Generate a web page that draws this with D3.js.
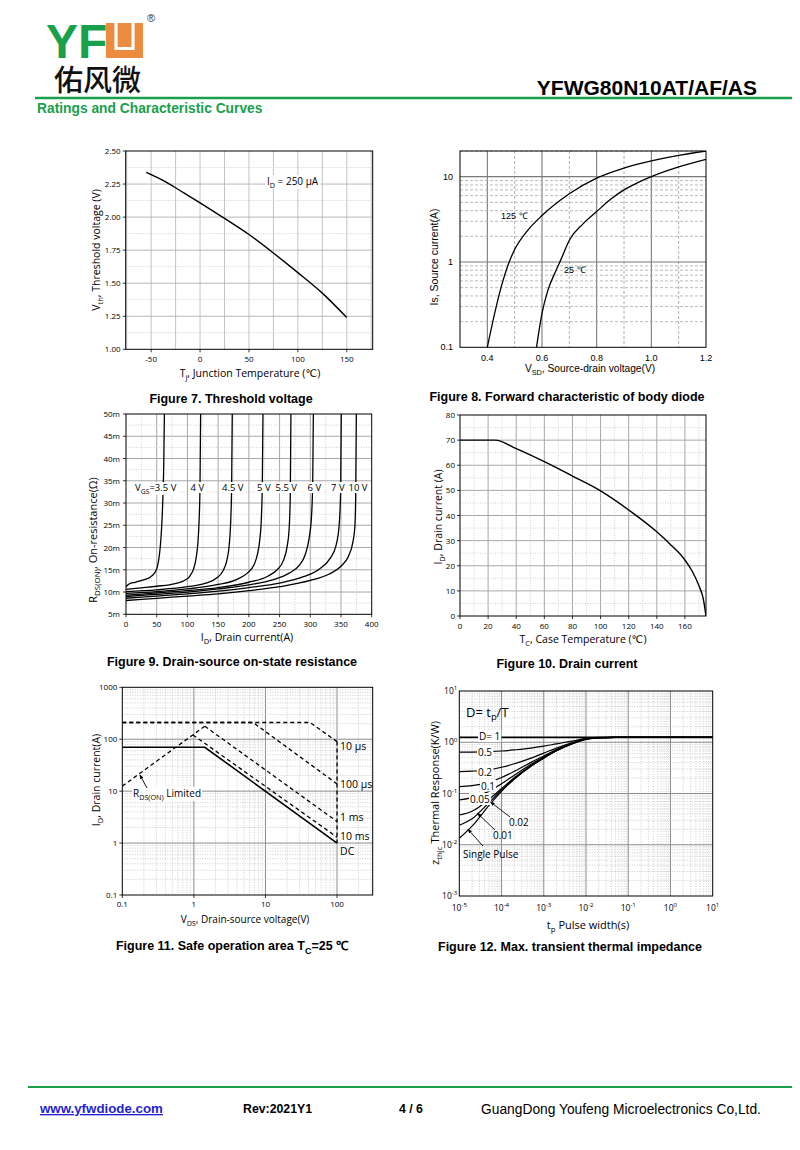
<!DOCTYPE html>
<html><head><meta charset="utf-8">
<script src="https://cdn.jsdelivr.net/npm/d3@7"></script>
<style>body{margin:0;background:#fff}svg{display:block}</style>
</head><body>
<script>
// ===== DATA =====
// Figure 7: threshold voltage vs junction temperature
const fig7Temp = [-55, -40, -25, -10, 0, 25, 50, 75, 100, 125, 150];
const fig7Vth  = [2.338, 2.285, 2.222, 2.153, 2.108, 1.99, 1.868, 1.728, 1.58, 1.425, 1.24];
const fig7XTicks = [-50, 0, 50, 100, 150];
const fig7YTicks = [1.00, 1.25, 1.50, 1.75, 2.00, 2.25, 2.50];

// Figure 8: body diode forward characteristic
const fig8V125 = [0.40, 0.42, 0.45, 0.48, 0.50, 0.55, 0.60, 0.70, 0.80, 0.90, 1.00, 1.10, 1.20];
const fig8I125 = [0.10, 0.20, 0.50, 1.00, 1.40, 2.40, 3.50, 6.30, 9.60, 12.6, 15.3, 17.8, 20.0];
const fig8V25  = [0.58, 0.60, 0.62, 0.65, 0.67, 0.70, 0.75, 0.80, 0.85, 0.90, 0.95, 1.00, 1.10, 1.20];
const fig8I25  = [0.10, 0.25, 0.45, 0.78, 1.08, 1.80, 2.80, 3.90, 5.40, 7.00, 8.50, 10.0, 13.0, 16.0];
const fig8XTicks = [0.4, 0.6, 0.8, 1.0, 1.2];
const fig8YTicks = [0.1, 1, 10];

// Figure 9: on-resistance vs drain current (mΩ)
const fig9Labels = ["3.5 V", "4 V", "4.5 V", "5 V", "5.5 V", "6 V", "7 V", "10 V"];
const fig9Current = [
  [0, 5, 15, 30, 40, 46, 50, 53, 56, 58, 60, 61.5, 62.5],
  [0, 20, 50, 80, 95, 104, 110, 114, 117, 119, 120.5, 121.5],
  [0, 50, 100, 130, 148, 158, 164, 168, 170.5, 172, 173],
  [0, 50, 100, 150, 180, 198, 208, 214, 218, 220.5, 222, 223],
  [0, 50, 100, 150, 200, 230, 246, 256, 262, 265.5, 267.5, 268.5],
  [0, 50, 100, 150, 200, 240, 265, 282, 292, 298, 302, 304, 305],
  [0, 50, 100, 150, 200, 250, 290, 315, 332, 342, 347, 349.5, 350.5],
  [0, 50, 100, 150, 200, 250, 300, 330, 350, 362, 369, 372.5, 374, 375]
];
const fig9Rds = [
  [11.2, 11.8, 12.2, 12.8, 13.4, 14.2, 15.2, 17, 20.5, 24.5, 31, 39, 50],
  [10.6, 10.9, 11.3, 11.9, 12.6, 13.6, 15.2, 17.5, 21, 26, 34, 50],
  [10.1, 10.5, 11.2, 12, 13.2, 14.8, 17, 20.5, 26, 34, 50],
  [9.7, 10.1, 10.7, 11.7, 12.8, 14.3, 16, 18.5, 22, 27, 35, 50],
  [9.3, 9.8, 10.3, 11, 12.2, 13.5, 15, 17, 20, 24, 32, 50],
  [9.0, 9.5, 10, 10.7, 11.6, 12.8, 14.2, 16, 18.5, 22, 27, 35, 50],
  [8.6, 9.1, 9.6, 10.2, 11, 12, 13.5, 15.2, 17.5, 20.5, 25, 33, 50],
  [8.1, 8.6, 9.1, 9.6, 10.3, 11.2, 12.6, 14, 15.8, 18, 21, 24.5, 32, 50]
];
const fig9XTicks = [0, 50, 100, 150, 200, 250, 300, 350, 400];
const fig9YTicks = [5, 10, 15, 20, 25, 30, 35, 40, 45, 50];

// Figure 10: drain current vs case temperature
const fig10Temp = [0, 25, 40, 60, 80, 100, 120, 140, 150, 160, 165, 170, 173, 175];
const fig10Id   = [70, 70, 66.6, 61.4, 55.7, 49.8, 42.2, 33.5, 28.3, 22.3, 18, 12, 7, 0];
const fig10XTicks = [0, 20, 40, 60, 80, 100, 120, 140, 160];
const fig10YTicks = [0, 10, 20, 30, 40, 50, 60, 70, 80];

// Figure 11: safe operating area
const soaRdsV = [0.1, 1.42],        soaRdsI = [12.5, 178];
const soa10usV = [0.1, 42, 100],    soa10usI = [210, 210, 90];
const soa100usV = [0.1, 6.7, 100],  soa100usI = [210, 210, 13.8];
const soa1msV = [1.42, 100],        soa1msI = [178, 2.6];
const soa10msV = [0.97, 100],       soa10msI = [121, 1.3];
const soaDcV = [0.1, 1.42, 100],    soaDcI = [70, 70, 1];
const soaVmaxV = [100, 100],        soaVmaxI = [90, 1];
const soaLabels = ["10 µs", "100 µs", "1 ms", "10 ms", "DC"];
const fig11XTicks = [0.1, 1, 10, 100];
const fig11YTicks = [0.1, 1, 10, 100, 1000];

// Figure 12: transient thermal impedance
const tpSec = [1e-5, 2e-5, 5e-5, 1e-4, 2e-4, 5e-4, 1e-3, 2e-3, 5e-3, 1e-2, 2e-2, 5e-2, 1e-1, 1, 10];
const zD1    = [1.25, 1.25, 1.25, 1.25, 1.25, 1.25, 1.25, 1.25, 1.25, 1.25, 1.25, 1.25, 1.25, 1.25, 1.25];
const zD05   = [0.64, 0.643, 0.655, 0.675, 0.71, 0.77, 0.84, 0.93, 1.06, 1.19, 1.24, 1.25, 1.25, 1.25, 1.25];
const zD02   = [0.267, 0.273, 0.29, 0.325, 0.38, 0.49, 0.615, 0.77, 0.995, 1.165, 1.23, 1.25, 1.25, 1.25, 1.25];
const zD01   = [0.136, 0.143, 0.165, 0.205, 0.27, 0.405, 0.54, 0.72, 0.975, 1.155, 1.23, 1.25, 1.25, 1.25, 1.25];
const zD005  = [0.075, 0.083, 0.11, 0.155, 0.228, 0.372, 0.515, 0.70, 0.965, 1.15, 1.225, 1.25, 1.25, 1.25, 1.25];
const zD002  = [0.038, 0.045, 0.076, 0.125, 0.203, 0.352, 0.50, 0.69, 0.96, 1.15, 1.225, 1.25, 1.25, 1.25, 1.25];
const zD001  = [0.024, 0.032, 0.066, 0.117, 0.196, 0.345, 0.495, 0.685, 0.955, 1.145, 1.22, 1.25, 1.25, 1.25, 1.25];
const zSingle= [0.0133, 0.023, 0.058, 0.11, 0.19, 0.34, 0.49, 0.68, 0.95, 1.14, 1.22, 1.25, 1.25, 1.25, 1.25];
const fig12XExp = [-5, -4, -3, -2, -1, 0, 1];
const fig12YExp = [-3, -2, -1, 0, 1];

// ===== HELPERS =====
const SANS = "'Liberation Sans', Arial, sans-serif";
const OPEN = "'Open Sans', 'DejaVu Sans', sans-serif";
const GREEN = "#19a04b", ORANGE = "#ec8b3d";
const svg = d3.select("body").append("svg").attr("width", 800).attr("height", 1150);
svg.append("rect").attr("width", 800).attr("height", 1150).attr("fill", "#fff");
const defs = svg.append("defs");
defs.append("marker").attr("id", "arr").attr("viewBox", "0 0 10 10").attr("refX", 9).attr("refY", 5)
  .attr("markerWidth", 5).attr("markerHeight", 5).attr("orient", "auto-start-reverse")
  .append("path").attr("d", "M0,1 L10,5 L0,9 z").attr("fill", "#000");

function rich(t, str, fs) {
  const parts = str.split(/(_\{[^}]*\}|\^\{[^}]*\})/).filter(s => s.length);
  let off = 0;
  parts.forEach(p => {
    const ts = t.append("tspan");
    let target = 0, s = p, size = null;
    if (p.startsWith("_{")) { target = 0.3 * fs; s = p.slice(2, -1); size = fs * 0.72; }
    else if (p.startsWith("^{")) { target = -0.42 * fs; s = p.slice(2, -1); size = fs * 0.72; }
    ts.text(s);
    if (size) ts.attr("font-size", size);
    if (target !== off) { ts.attr("dy", target - off); off = target; }
  });
}
function txt(g, x, y, str, o = {}) {
  const fs = o.fs || 10;
  const t = g.append("text").attr("x", x).attr("y", y)
    .attr("font-family", o.ff || SANS).attr("font-size", fs)
    .attr("fill", o.fill || "#000").attr("text-anchor", o.anchor || "start");
  if (o.fw) t.attr("font-weight", o.fw);
  if (o.rotate) t.attr("transform", `rotate(${o.rotate},${x},${y})`);
  rich(t, str, fs);
  return t;
}
function boxed(g, x, y, str, o = {}, pad = 1.5) {
  const t = txt(g, x, y, str, o);
  const b = t.node().getBBox();
  g.insert("rect", () => t.node()).attr("x", b.x - pad).attr("y", b.y + 1).attr("width", b.width + 2 * pad)
    .attr("height", b.height - 2).attr("fill", "#fff");
  return t;
}
function vlines(g, xs, vals, T, B, st) {
  g.append("g").selectAll("line").data(vals).join("line")
    .attr("x1", d => xs(d)).attr("x2", d => xs(d)).attr("y1", T).attr("y2", B)
    .attr("stroke", st.c).attr("stroke-width", st.w).attr("stroke-dasharray", st.d || null);
}
function hlines(g, ys, vals, L, R, st) {
  g.append("g").selectAll("line").data(vals).join("line")
    .attr("y1", d => ys(d)).attr("y2", d => ys(d)).attr("x1", L).attr("x2", R)
    .attr("stroke", st.c).attr("stroke-width", st.w).attr("stroke-dasharray", st.d || null);
}
function frame(g, L, R, T, B, w = 1) {
  g.append("rect").attr("x", L).attr("y", T).attr("width", R - L).attr("height", B - T)
    .attr("fill", "none").attr("stroke", "#000").attr("stroke-width", w);
}
let clipN = 0;
function clip(g, L, R, T, B) {
  const id = "c" + (clipN++);
  defs.append("clipPath").attr("id", id).append("rect").attr("x", L).attr("y", T).attr("width", R - L).attr("height", B - T);
  return g.append("g").attr("clip-path", `url(#${id})`);
}
function ticksOut(g, xs, ys, xv, yv, L, B, len, w) {
  g.append("g").selectAll("line").data(xv).join("line").attr("x1", d => xs(d)).attr("x2", d => xs(d))
    .attr("y1", B).attr("y2", B + len).attr("stroke", "#000").attr("stroke-width", w);
  g.append("g").selectAll("line").data(yv).join("line").attr("y1", d => ys(d)).attr("y2", d => ys(d))
    .attr("x1", L).attr("x2", L - len).attr("stroke", "#000").attr("stroke-width", w);
}
function logMinors(lo, hi) {
  const out = [];
  for (let e = lo; e < hi; e++) for (let m = 2; m <= 9; m++) out.push(m * Math.pow(10, e));
  return out;
}
function caption(x, y, s) { txt(svg, x, y, s, { fs: 12.5, fw: "bold", anchor: "middle" }); }
const zip = (a, b) => a.map((v, i) => [v, b[i]]);

// ===== HEADER =====
txt(svg, 46, 58, "YF", { fs: 48, fw: "bold", fill: GREEN, ff: SANS });
svg.append("rect").attr("x", 106).attr("y", 23).attr("width", 37).attr("height", 35).attr("fill", ORANGE);
svg.append("path").attr("d", "M116,23 V48.5 H133 V23").attr("fill", "none").attr("stroke", "#fff").attr("stroke-width", 3.2);
txt(svg, 147, 22, "®", { fs: 11, fill: "#333" });
txt(svg, 54, 91, "佑风微", { fs: 29, fw: 500, ff: "'Noto Sans CJK SC', sans-serif", fill: "#111" });
txt(svg, 757, 95, "YFWG80N10AT/AF/AS", { fs: 21, fw: "bold", anchor: "end" });
svg.append("line").attr("x1", 35).attr("x2", 792).attr("y1", 98).attr("y2", 98).attr("stroke", GREEN).attr("stroke-width", 2.5);
txt(svg, 37, 113, "Ratings and Characteristic Curves", { fs: 13.8, fw: "bold", fill: GREEN });

// ===== FIGURE 7 =====
{
  const L = 125.7, R = 372.7, T = 151, B = 349.3;
  const g = svg.append("g");
  const x = d3.scaleLinear().domain([-76, 176.5]).range([L, R]);
  const y = d3.scaleLinear().domain([1.0, 2.5]).range([B, T]);
  vlines(g, x, d3.range(-75, 176, 25), T, B, { c: "#bdbdbd", w: 0.9 });
  hlines(g, y, d3.range(1.125, 2.5, 0.25), L, R, { c: "#c4c4c4", w: 0.8, d: "1,1.5" });
  hlines(g, y, [1.25, 1.5, 1.75, 2.0, 2.25], L, R, { c: "#b0b0b0", w: 0.9 });
  const c = clip(g, L, R, T, B);
  c.append("path").datum(zip(fig7Temp, fig7Vth)).attr("fill", "none").attr("stroke", "#000").attr("stroke-width", 1.4)
    .attr("d", d3.line().x(d => x(d[0])).y(d => y(d[1])).curve(d3.curveMonotoneX));
  frame(g, L, R, T, B, 1);
  ticksOut(g, x, y, fig7XTicks, fig7YTicks, L, B, 3, 0.8);
  fig7XTicks.forEach(v => txt(g, x(v), B + 13, String(v), { fs: 8, ff: OPEN, anchor: "middle" }));
  fig7YTicks.forEach(v => txt(g, L - 5, y(v) + 3, v.toFixed(2), { fs: 8, ff: OPEN, anchor: "end" }));
  boxed(g, 267, 185, "I_{D} = 250 µA", { fs: 10, ff: OPEN });
  txt(g, 99.5, 250, "V_{th}, Threshold voltage (V)", { fs: 10.5, ff: OPEN, anchor: "middle", rotate: -90 });
  txt(g, 250, 377, "T_{j}, Junction Temperature (℃)", { fs: 10.5, ff: OPEN, anchor: "middle" });
  caption(231, 403, "Figure 7. Threshold voltage");
}

// ===== FIGURE 8 =====
{
  const L = 460, R = 706, T = 151, B = 347.3;
  const g = svg.append("g");
  const x = d3.scaleLinear().domain([0.3, 1.2]).range([L, R]);
  const y = d3.scaleLog().domain([0.1, 20]).range([B, T]);
  vlines(g, x, [0.5, 0.7, 0.9, 1.1], T, B, { c: "#9a9a9a", w: 0.8, d: "3,2" });
  vlines(g, x, [0.4, 0.6, 0.8, 1.0], T, B, { c: "#7a7a7a", w: 1.1 });
  hlines(g, y, logMinors(-1, 2).filter(v => v <= 20), L, R, { c: "#a8a8a8", w: 0.8, d: "3,2" });
  hlines(g, y, [1, 10], L, R, { c: "#7a7a7a", w: 1.2 });
  const c = clip(g, L, R, T, B);
  const ln = d3.line().x(d => x(d[0])).y(d => y(d[1])).curve(d3.curveMonotoneX);
  c.append("path").datum(zip(fig8V125, fig8I125)).attr("fill", "none").attr("stroke", "#000").attr("stroke-width", 1.3).attr("d", ln);
  c.append("path").datum(zip(fig8V25, fig8I25)).attr("fill", "none").attr("stroke", "#000").attr("stroke-width", 1.3).attr("d", ln);
  frame(g, L, R, T, B, 1);
  fig8XTicks.forEach(v => txt(g, x(v), B + 13.5, v.toFixed(1), { fs: 9 , anchor: "middle" }));
  fig8YTicks.forEach(v => txt(g, L - 7, y(v) + 3, String(v), { fs: 9, anchor: "end" }));
  txt(g, 501, 218.5, "125 ℃", { fs: 9 });
  txt(g, 564, 272.5, "25 ℃", { fs: 9 });
  txt(g, 437.5, 257, "Is, Source current(A)", { fs: 10.5, anchor: "middle", rotate: -90 });
  txt(g, 590, 371.5, "V_{SD}, Source-drain voltage(V)", { fs: 10.2, anchor: "middle" });
  caption(567, 401, "Figure 8. Forward characteristic of body diode");
}

// ===== FIGURE 9 =====
{
  const L = 126, R = 371.7, T = 414, B = 614.3;
  const g = svg.append("g");
  const x = d3.scaleLinear().domain([0, 400]).range([L, R]);
  const y = d3.scaleLinear().domain([5, 50]).range([B, T]);
  vlines(g, x, d3.range(25, 400, 50), T, B, { c: "#c4c4c4", w: 0.8, d: "1,1.5" });
  vlines(g, x, d3.range(50, 400, 50), T, B, { c: "#a8a8a8", w: 1 });
  hlines(g, y, d3.range(7.5, 50, 5), L, R, { c: "#c4c4c4", w: 0.8, d: "1,1.5" });
  hlines(g, y, d3.range(10, 50, 5), L, R, { c: "#a8a8a8", w: 1 });
  const c = clip(g, L, R, T, B);
  const ln = d3.line().x(d => x(d[0])).y(d => y(d[1])).curve(d3.curveMonotoneX);
  fig9Current.forEach((cur, i) => {
    c.append("path").datum(zip(cur, fig9Rds[i])).attr("fill", "none").attr("stroke", "#000").attr("stroke-width", 1.3).attr("d", ln);
  });
  frame(g, L, R, T, B, 1);
  ticksOut(g, x, y, fig9XTicks, fig9YTicks, L, B, 3, 0.8);
  fig9XTicks.forEach(v => txt(g, x(v), B + 12.5, String(v), { fs: 8, ff: OPEN, anchor: "middle" }));
  fig9YTicks.forEach(v => txt(g, L - 6, y(v) + 3, v + "m", { fs: 8, ff: OPEN, anchor: "end" }));
  const lblX = [135, 190.5, 222, 257, 275.5, 307.5, 331, 348.5];
  fig9Labels.forEach((s, i) => {
    boxed(g, lblX[i], 491, i === 0 ? "V_{GS}=" + s : s, { fs: 9.5, ff: OPEN }, 2);
  });
  txt(g, 97, 540, "R_{DS(ON)}, On-resistance(Ω)", { fs: 11, ff: OPEN, anchor: "middle", rotate: -90 });
  txt(g, 247, 641, "I_{D}, Drain current(A)", { fs: 10.5, ff: OPEN, anchor: "middle" });
  caption(232, 666, "Figure 9. Drain-source on-state resistance");
}

// ===== FIGURE 10 =====
{
  const L = 460, R = 706, T = 415, B = 616;
  const g = svg.append("g");
  const x = d3.scaleLinear().domain([0, 175]).range([L, R]);
  const y = d3.scaleLinear().domain([0, 80]).range([B, T]);
  vlines(g, x, d3.range(10, 175, 20), T, B, { c: "#c4c4c4", w: 0.8, d: "1,1.5" });
  vlines(g, x, d3.range(20, 175, 20), T, B, { c: "#a8a8a8", w: 1 });
  hlines(g, y, d3.range(5, 80, 10), L, R, { c: "#c4c4c4", w: 0.8, d: "1,1.5" });
  hlines(g, y, d3.range(10, 80, 10), L, R, { c: "#a8a8a8", w: 1 });
  const c = clip(g, L, R, T, B);
  c.append("path").datum(zip(fig10Temp, fig10Id)).attr("fill", "none").attr("stroke", "#000").attr("stroke-width", 1.4)
    .attr("d", d3.line().x(d => x(d[0])).y(d => y(d[1])).curve(d3.curveMonotoneX));
  frame(g, L, R, T, B, 1);
  ticksOut(g, x, y, fig10XTicks, fig10YTicks, L, B, 3, 0.8);
  fig10XTicks.forEach(v => txt(g, x(v), B + 13, String(v), { fs: 8, ff: OPEN, anchor: "middle" }));
  fig10YTicks.forEach(v => txt(g, L - 5, y(v) + 3, String(v), { fs: 8, ff: OPEN, anchor: "end" }));
  txt(g, 441.5, 517, "I_{D}, Drain current (A)", { fs: 10.5, ff: OPEN, anchor: "middle", rotate: -90 });
  txt(g, 583, 643, "T_{C}, Case Temperature (℃)", { fs: 10.5, ff: OPEN, anchor: "middle" });
  caption(567, 668, "Figure 10. Drain current");
}

// ===== FIGURE 11 =====
{
  const L = 122.3, R = 372.7, T = 687.3, B = 895;
  const g = svg.append("g");
  const x = d3.scaleLog().domain([0.1, 315]).range([L, R]);
  const y = d3.scaleLog().domain([0.1, 1000]).range([B, T]);
  vlines(g, x, logMinors(-1, 3).filter(v => v < 315), T, B, { c: "#c0c0c0", w: 0.8, d: "1,1.5" });
  vlines(g, x, [1, 10, 100], T, B, { c: "#8c8c8c", w: 1 });
  hlines(g, y, logMinors(-1, 3), L, R, { c: "#c0c0c0", w: 0.8, d: "1,1.5" });
  hlines(g, y, [1, 10, 100], L, R, { c: "#8c8c8c", w: 1 });
  const c = clip(g, L, R, T, B);
  const ln = d3.line().x(d => x(d[0])).y(d => y(d[1]));
  const dashed = [[soaRdsV, soaRdsI], [soa10usV, soa10usI], [soa100usV, soa100usI], [soa1msV, soa1msI], [soa10msV, soa10msI], [soaVmaxV, soaVmaxI]];
  dashed.forEach(([v, i]) => c.append("path").datum(zip(v, i)).attr("fill", "none").attr("stroke", "#000")
    .attr("stroke-width", 1.3).attr("stroke-dasharray", "4,3").attr("d", ln));
  c.append("path").datum(zip(soaDcV, soaDcI)).attr("fill", "none").attr("stroke", "#000").attr("stroke-width", 1.6).attr("d", ln);
  frame(g, L, R, T, B, 1);
  ticksOut(g, x, y, fig11XTicks, fig11YTicks, L, B, 3, 0.8);
  fig11XTicks.forEach(v => txt(g, x(v), B + 12, String(v), { fs: 8, ff: OPEN, anchor: "middle" }));
  fig11YTicks.forEach(v => txt(g, L - 5, y(v) + 3, String(v), { fs: 8, ff: OPEN, anchor: "end" }));
  const lblI = [72, 13.5, 3.2, 1.36, 0.70];
  soaLabels.forEach((s, i) => txt(g, x(100) + 3, y(lblI[i]) + 3.8, s, { fs: 10.5, ff: OPEN }));
  boxed(g, 133, 797, "R_{DS(ON)} Limited", { fs: 10, ff: OPEN }, 1);
  g.append("line").attr("x1", 147).attr("y1", 788).attr("x2", x(0.176)).attr("y2", y(22) + 1.5)
    .attr("stroke", "#000").attr("stroke-width", 0.9).attr("marker-end", "url(#arr)");
  txt(g, 99.5, 780, "I_{D}, Drain current(A)", { fs: 10.5, ff: OPEN, anchor: "middle", rotate: -90 });
  txt(g, 245, 923, "V_{DS}, Drain-source voltage(V)", { fs: 10, ff: OPEN, anchor: "middle" });
  caption(232, 950, "Figure 11. Safe operation area T_{C}=25  ℃");
}

// ===== FIGURE 12 =====
{
  const L = 459.3, R = 712.7, T = 691, B = 896;
  const g = svg.append("g");
  const x = d3.scaleLog().domain([1e-5, 10]).range([L, R]);
  const y = d3.scaleLog().domain([1e-3, 10]).range([B, T]);
  vlines(g, x, logMinors(-5, 1), T, B, { c: "#c0c0c0", w: 0.8, d: "1,1.5" });
  vlines(g, x, fig12XExp.slice(1, -1).map(e => Math.pow(10, e)), T, B, { c: "#8c8c8c", w: 1 });
  hlines(g, y, logMinors(-3, 1), L, R, { c: "#c0c0c0", w: 0.8, d: "1,1.5" });
  hlines(g, y, fig12YExp.slice(1, -1).map(e => Math.pow(10, e)), L, R, { c: "#8c8c8c", w: 1 });
  const c = clip(g, L, R, T, B);
  const ln = d3.line().x(d => x(d[0])).y(d => y(d[1])).curve(d3.curveMonotoneX);
  [zSingle, zD001, zD002, zD005, zD01, zD02, zD05].forEach(z =>
    c.append("path").datum(zip(tpSec, z)).attr("fill", "none").attr("stroke", "#000").attr("stroke-width", 1.2).attr("d", ln));
  c.append("path").datum(zip(tpSec, zD1)).attr("fill", "none").attr("stroke", "#000").attr("stroke-width", 1.8).attr("d", ln);
  frame(g, L, R, T, B, 1);
  fig12XExp.forEach(e => txt(g, x(Math.pow(10, e)), B + 15, "10^{" + e + "}", { fs: 8.5, ff: OPEN, anchor: "middle" }));
  fig12YExp.forEach(e => txt(g, L - 2, y(Math.pow(10, e)) + 3, "10^{" + e + "}", { fs: 8.5, ff: OPEN, anchor: "end" }));
  // inline labels
  boxed(g, 479, 740, "D= 1", { fs: 10, ff: OPEN }, 1);
  boxed(g, 478, 756, "0.5", { fs: 10, ff: OPEN }, 1);
  boxed(g, 478, 775.5, "0.2", { fs: 10, ff: OPEN }, 1);
  boxed(g, 481, 789.5, "0.1", { fs: 10, ff: OPEN }, 1);
  boxed(g, 470, 803, "0.05", { fs: 10, ff: OPEN }, 1);
  txt(g, 509, 825.5, "0.02", { fs: 10, ff: OPEN });
  txt(g, 493, 838.5, "0.01", { fs: 10, ff: OPEN });
  txt(g, 463, 857.5, "Single Pulse", { fs: 10, ff: OPEN });
  [[510, 817, x(5.5e-5), y(0.068)], [495, 830, x(2.7e-5), y(0.041)], [483, 846, x(1.6e-5), y(0.02)]].forEach(p =>
    g.append("line").attr("x1", p[0]).attr("y1", p[1]).attr("x2", p[2]).attr("y2", p[3])
      .attr("stroke", "#000").attr("stroke-width", 0.9).attr("marker-end", "url(#arr)"));
  txt(g, 466, 716.5, "D= t_{p}/T", { fs: 13, ff: OPEN });
  txt(g, 439, 793, "z_{thjc} Thermal Response(K/W)", { fs: 11, ff: OPEN, anchor: "middle", rotate: -90 });
  txt(g, 588, 929, "t_{p} Pulse width(s)", { fs: 11, ff: OPEN, anchor: "middle" });
  caption(570, 951, "Figure 12. Max. transient thermal impedance");
}

// ===== FOOTER =====
svg.append("line").attr("x1", 28).attr("x2", 792).attr("y1", 1087).attr("y2", 1087).attr("stroke", GREEN).attr("stroke-width", 2);
txt(svg, 40, 1113, "www.yfwdiode.com", { fs: 13.3, fw: "bold", fill: "#1f1fd0" }).attr("text-decoration", "underline");
txt(svg, 243, 1113, "Rev:2021Y1", { fs: 12.3, fw: "bold" });
txt(svg, 399, 1113, "4 / 6", { fs: 12.3, fw: "bold" });
txt(svg, 481, 1114, "GuangDong Youfeng Microelectronics Co,Ltd.", { fs: 13.8 });
</script>
</body></html>
